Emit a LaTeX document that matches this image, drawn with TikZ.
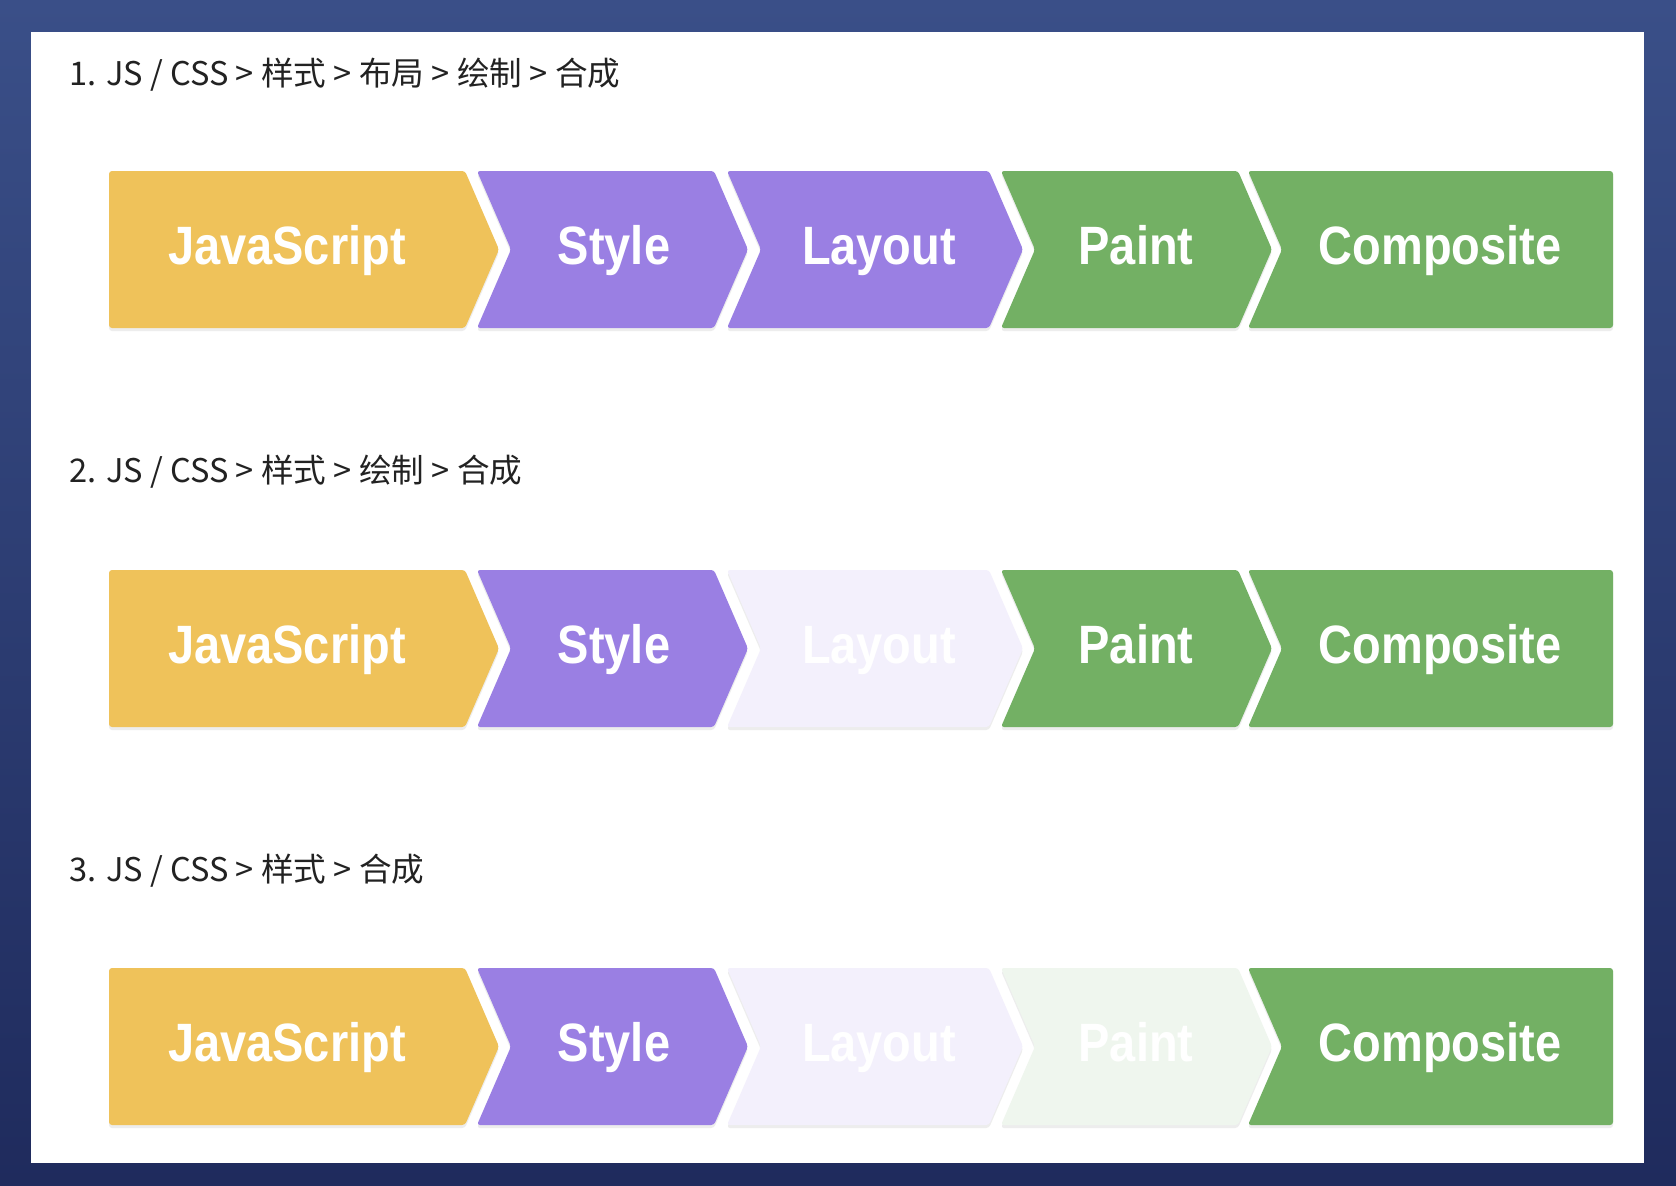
\documentclass[tikz,border=0pt]{standalone}
\usepackage{fontspec}
\setmainfont{Liberation Sans}
\newfontfamily\cjk{Noto Sans CJK SC}
\newfontfamily\boxfont{Liberation Sans}[FakeStretch=0.87]
\definecolor{bgtop}{HTML}{3A4F88}
\definecolor{bgbot}{HTML}{1F2B5D}
\definecolor{jsc}{HTML}{EFC25A}
\definecolor{purp}{HTML}{9A7FE3}
\definecolor{purpfade}{HTML}{F3F0FC}
\definecolor{grn}{HTML}{73B064}
\definecolor{grnfade}{HTML}{EFF6EE}
\definecolor{ttl}{HTML}{222222}
\tikzset{
  chev/.style={rounded corners=3pt},
  shadowbox/.style={rounded corners=3pt, fill=black!7},
  lbl/.style={font=\boxfont\bfseries\fontsize{54}{60}\selectfont, text=white, anchor=base, inner sep=0pt},
  ttlnode/.style={font=\cjk\fontsize{32.6}{38}\selectfont, text=ttl, anchor=west, inner sep=0pt}
}
\begin{document}
\begin{tikzpicture}[x=1pt,y=-1pt]
\useasboundingbox (0,0) rectangle (1676,1186);
\shade[top color=bgtop, bottom color=bgbot] (0,0) rectangle (1676,1186);
\fill[white] (31,32) rectangle (1644,1163);
\node[ttlnode] (t1) at (69,75) {1. JS / CSS > 样式 > 布局 > 绘制 > 合成};
\node[ttlnode] (t2) at (69,472) {2. JS / CSS > 样式 > 绘制 > 合成};
\node[ttlnode] (t3) at (69,871) {3. JS / CSS > 样式 > 合成};
\foreach \row/\ty/\lc/\pc in {1/171/purp/grn, 2/570/purpfade/grn, 3/968/purpfade/grnfade}{
  \pgfmathsetmacro\by{\ty+157}
  \pgfmathsetmacro\my{\ty+78.5}
  \pgfmathsetmacro\bl{\ty+93}
  % shadows
  \begin{scope}[yshift=-3pt]
    \fill[shadowbox] (109,\ty) -- (465,\ty) -- (499,\my) -- (465,\by) -- (109,\by) -- cycle;
    \fill[shadowbox] (477,\ty) -- (714,\ty) -- (748,\my) -- (714,\by) -- (477,\by) -- (511,\my) -- cycle;
    \fill[shadowbox] (727,\ty) -- (989,\ty) -- (1023,\my) -- (989,\by) -- (727,\by) -- (761,\my) -- cycle;
    \fill[shadowbox] (1001,\ty) -- (1238,\ty) -- (1272,\my) -- (1238,\by) -- (1001,\by) -- (1035,\my) -- cycle;
    \fill[shadowbox] (1248,\ty) -- (1613,\ty) -- (1613,\by) -- (1248,\by) -- (1282,\my) -- cycle;
  \end{scope}
  \fill[chev, jsc] (109,\ty) -- (465,\ty) -- (499,\my) -- (465,\by) -- (109,\by) -- cycle;
  \fill[chev, purp] (477,\ty) -- (714,\ty) -- (748,\my) -- (714,\by) -- (477,\by) -- (511,\my) -- cycle;
  \fill[chev, \lc] (727,\ty) -- (989,\ty) -- (1023,\my) -- (989,\by) -- (727,\by) -- (761,\my) -- cycle;
  \fill[chev, \pc] (1001,\ty) -- (1238,\ty) -- (1272,\my) -- (1238,\by) -- (1001,\by) -- (1035,\my) -- cycle;
  \fill[chev, grn] (1248,\ty) -- (1613,\ty) -- (1613,\by) -- (1248,\by) -- (1282,\my) -- cycle;
  \node[lbl] (js\row) at (287,\bl) {JavaScript};
  \node[lbl] (st\row) at (614,\bl) {Style};
  \node[lbl] (la\row) at (879,\bl) {Layout};
  \node[lbl] (pa\row) at (1136,\bl) {Paint};
  \node[lbl] (co\row) at (1440,\bl) {Composite};
}
\end{tikzpicture}
\end{document}
